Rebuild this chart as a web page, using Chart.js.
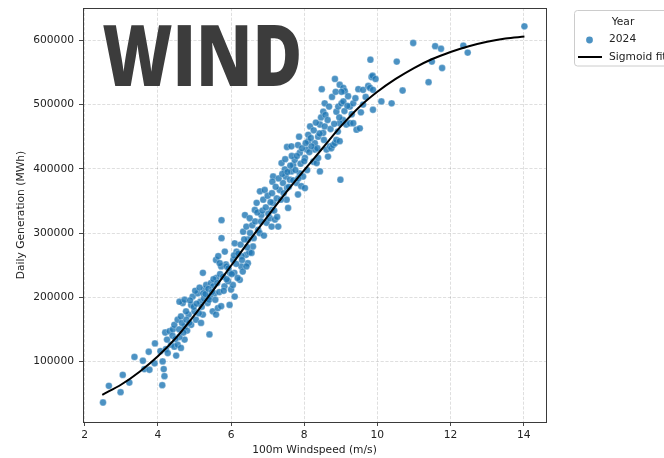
<!DOCTYPE html>
<html><head><meta charset="utf-8">
<script src="https://cdn.jsdelivr.net/npm/chart.js@4.4.1/dist/chart.umd.min.js"></script>
<style>html,body{margin:0;padding:0;background:#fff;overflow:hidden}#wrap{position:relative;width:664px;height:458px}</style>
</head><body><div id="wrap"><canvas id="c" width="664" height="458"></canvas></div>
<script>
// ---- data ----
const windSpeed = [
2.50,2.66,2.98,3.22,4.12,3.04,3.36,3.59,3.63,3.75,3.77,3.92,3.91,4.13,4.16,4.18,4.07,4.22,4.27,4.20,
4.25,4.36,4.32,4.45,4.41,4.54,4.50,4.63,4.73,4.59,4.45,4.54,4.63,4.73,4.80,4.91,4.84,4.77,4.68,4.59,
4.73,4.91,4.95,5.00,5.04,5.18,5.23,5.09,5.16,5.23,5.27,5.32,5.36,5.41,5.45,5.50,5.55,5.59,5.64,5.73,
5.82,5.86,5.96,6.00,6.05,5.59,5.73,6.09,6.28,6.32,6.46,6.41,6.50,
5.24,5.51,5.42,5.65,5.74,5.74,5.69,5.83,5.88,5.97,6.06,6.10,6.15,6.29,6.33,6.38,6.42,6.47,6.51,6.56,
6.60,6.65,6.70,6.74,6.79,6.92,6.83,6.88,6.97,7.06,7.11,7.15,7.11,7.20,7.25,7.29,7.15,7.13,7.38,7.33,
7.42,7.47,7.49,7.53,7.52,7.56,7.61,7.65,7.70,7.74,7.79,7.83,7.88,7.92,7.97,8.02,7.88,7.53,7.65,7.83,
7.86,8.02,8.07,8.11,8.16,8.11,8.25,8.29,8.34,8.38,8.43,8.29,8.38,8.43,8.52,8.56,8.61,8.65,8.70,8.74,
8.79,8.84,8.88,8.97,8.99,8.52,8.56,8.88,8.93,9.02,9.06,9.15,9.25,9.34,9.43,9.52,9.61,9.88,10.11,10.39,
5.60,5.92,6.10,6.24,6.42,
8.84,8.97,9.07,9.11,9.20,9.07,9.25,9.34,9.48,9.61,9.75,9.80,9.84,9.87,9.81,9.88,10.53,10.69,10.98,11.40,
11.49,11.58,11.74,11.77,12.35,12.47,14.02,8.97,
4.40,4.48,4.58,4.66,4.70,4.78,4.86,4.88,4.98,5.02,5.06,5.12,5.14,5.20,5.26,5.30,5.38,5.40,5.48,5.52,
5.57,5.62,5.68,5.70,5.78,5.80,5.88,5.93,6.02,6.08,6.14,6.18,6.20,6.26,6.30,6.36,6.44,6.52,6.58,6.62,
6.66,6.72,6.78,6.82,6.86,6.90,6.95,7.00,7.02,7.08,7.12,7.18,7.22,7.26,7.30,7.36,7.40,7.44,7.48,7.54,
7.58,7.62,7.66,7.70,7.76,7.80,7.84,7.90,7.94,8.00,8.04,8.08,8.14,8.18,8.20,8.26,8.32,8.36,8.42,8.46,
8.48,8.54,8.58,8.64,8.68,8.72,8.76,8.82,8.86,8.92,8.96,9.02,9.10,9.18,9.30,9.40,9.55,9.68,9.95
];
const generation = [
36000,62000,52000,67000,63000,79000,107000,101000,88000,115000,87000,128000,97000,100000,88000,77000,116000,119000,113000,145000,
134000,126000,147000,123000,150000,126000,109000,121000,134000,138000,157000,165000,170000,154000,148000,157000,173000,178000,191000,193000,
196000,188000,201000,178000,165000,160000,173000,206000,193000,238000,212000,219000,191000,142000,222000,178000,206000,173000,183000,186000,
217000,251000,188000,212000,219000,258000,248000,238000,248000,240000,253000,266000,270000,
206000,217000,201000,264000,320000,292000,253000,271000,248000,238000,258000,284000,271000,264000,302000,328000,310000,290000,323000,269000,
279000,336000,347000,305000,365000,367000,328000,352000,316000,323000,336000,347000,310000,321000,354000,310000,388000,380000,409000,367000,
378000,399000,388000,370000,352000,339000,383000,396000,406000,414000,378000,360000,393000,373000,388000,370000,425000,434000,435000,437000,
450000,417000,430000,443000,466000,453000,411000,430000,409000,417000,396000,440000,450000,469000,456000,466000,430000,419000,435000,432000,
437000,440000,445000,443000,383000,489000,502000,489000,497000,502000,476000,469000,471000,471000,461000,463000,500000,492000,505000,502000,
230000,225000,201000,227000,248000,
540000,531000,526000,521000,513000,505000,497000,502000,524000,523000,529000,526000,543000,545000,570000,523000,567000,522000,596000,535000,
567000,591000,587000,557000,592000,581000,622000,471000,
140000,135000,150000,160000,145000,165000,160000,195000,185000,210000,190000,175000,215000,185000,198000,205000,213000,196000,208000,228000,
196000,222000,208000,236000,232000,210000,228000,245000,236000,265000,252000,230000,268000,282000,258000,290000,278000,300000,312000,292000,
318000,332000,300000,318000,335000,296000,340000,358000,330000,348000,362000,335000,372000,325000,385000,352000,392000,362000,415000,395000,
372000,405000,420000,382000,398000,420000,385000,408000,432000,412000,440000,398000,426000,448000,435000,460000,472000,432000,455000,480000,
524000,445000,484000,476000,497000,462000,512000,470000,520000,458000,480000,520000,490000,498000,485000,510000,488000,512000,540000
];
const fitSpeed = [2.48,3.0,3.5,4.0,4.5,5.0,5.5,6.0,6.5,7.0,7.5,8.0,8.5,9.0,9.5,10.0,10.5,11.0,11.5,12.0,12.5,13.0,13.5,14.02];
const fitGeneration = [48000,64000,84000,108000,137000,172000,210000,249000,288000,326000,363000,398000,432000,466000,496000,520000,540000,557000,571000,582000,591000,598000,603000,606000];
const xTicks = [2,4,6,8,10,12,14];
const yTicks = [100000,200000,300000,400000,500000,600000];
const bigTitle = 'WIND';
const xLabel = '100m Windspeed (m/s)';
const yLabel = 'Daily Generation (MWh)';
const legendTitle = 'Year';
const seriesName = '2024';
const fitName = 'Sigmoid fit';

// ---- styles ----
const FONT = 'DejaVu Sans';
const FS = 10.7;
const TXT = '#222';
const PT = 'rgba(31,119,180,0.8)';

const scatterData = windSpeed.map((x,i)=>({x, y: generation[i]}));
const fitData = fitSpeed.map((x,i)=>({x, y: fitGeneration[i]}));

const decor = {
  id:'decor',
  afterDraw(chart){
    const ctx = chart.ctx, a = chart.chartArea;
    ctx.save();
    // spines
    ctx.strokeStyle = '#3a3a3a'; ctx.lineWidth = 1;
    ctx.strokeRect(Math.round(a.left)+0.5, Math.round(a.top)+0.5, Math.round(a.right-a.left)-1+1, Math.round(a.bottom-a.top));
    // big title
    let size = 85;
    ctx.font = '800 '+size+'px "Open Sans"';
    let m = ctx.measureText(bigTitle);
    size = size*60.7/m.actualBoundingBoxAscent;
    ctx.font = '800 '+size.toFixed(2)+'px "Open Sans"';
    m = ctx.measureText(bigTitle);
    const inkW = m.actualBoundingBoxLeft + m.actualBoundingBoxRight;
    const sx = 196/inkW;
    ctx.fillStyle = '#3c3c3c';
    ctx.textAlign='left'; ctx.textBaseline='alphabetic';
    ctx.translate(103, 85.7); ctx.scale(sx,1);
    ctx.fillText(bigTitle, m.actualBoundingBoxLeft, 0);
    ctx.restore();
    // legend
    ctx.save();
    ctx.fillStyle='rgba(255,255,255,0.8)';
    ctx.strokeStyle='#cccccc'; ctx.lineWidth=1;
    ctx.beginPath();
    if (ctx.roundRect) ctx.roundRect(574.5, 10.5, 100, 55.5, 3); else ctx.rect(574.5,10.5,100,55.5);
    ctx.fill(); ctx.stroke();
    ctx.font = FS+'px "'+FONT+'"'; ctx.fillStyle=TXT; ctx.textBaseline='middle';
    ctx.textAlign='center'; ctx.fillText(legendTitle, 623, 22.5);
    ctx.textAlign='left';
    ctx.fillText(seriesName, 609, 39.5);
    ctx.fillText(fitName, 609, 57);
    ctx.fillStyle=PT; ctx.beginPath(); ctx.arc(589.5, 40, 3.4, 0, Math.PI*2); ctx.fill();
    ctx.strokeStyle='#000'; ctx.lineWidth=2; ctx.beginPath(); ctx.moveTo(578,57); ctx.lineTo(602,57); ctx.stroke();
    ctx.restore();
  }
};

const axisCommon = {
  border:{display:false, dash:[3.2,1.6]},
  grid:{color:'rgba(0,0,0,0.16)', lineWidth:0.8, drawTicks:true, tickLength:4, tickColor:'#333', tickWidth:0.9, tickBorderDash:[]},
};

new Chart(document.getElementById('c'), {
  type:'scatter',
  data:{datasets:[
    {label:fitName, data:fitData, showLine:true, borderColor:'#000', borderWidth:2, pointRadius:0, cubicInterpolationMode:'monotone', order:0, fill:false},
    {label:seriesName, data:scatterData, backgroundColor:PT, borderColor:'rgba(255,255,255,0.55)', borderWidth:0.5, pointRadius:3.4, order:1}
  ]},
  options:{
    responsive:false, animation:false, devicePixelRatio:1,
    layout:{padding:{left:0,right:118,top:8,bottom:0}},
    plugins:{legend:{display:false}, tooltip:{enabled:false}},
    scales:{
      x:{type:'linear', min:1.953, max:14.61, ...axisCommon,
        afterBuildTicks:s=>{s.ticks = xTicks.map(v=>({value:v}));},
        afterFit:s=>{s.height=36; s.paddingLeft=0; s.paddingRight=0;},
        ticks:{font:{family:FONT,size:FS}, color:TXT, padding:3, maxRotation:0, callback:v=>String(v)},
        title:{display:true, text:xLabel, font:{family:FONT,size:FS}, color:TXT, padding:{top:0,bottom:0.9}}
      },
      y:{type:'linear', min:5600, max:650500, ...axisCommon,
        afterBuildTicks:s=>{s.ticks = yTicks.map(v=>({value:v}));},
        afterFit:s=>{s.width=83; s.paddingTop=0; s.paddingBottom=0;},
        ticks:{font:{family:FONT,size:FS}, color:TXT, padding:5, callback:v=>String(v)},
        title:{display:true, text:yLabel, font:{family:FONT,size:FS}, color:TXT, padding:{top:15.3,bottom:0}}
      }
    }
  },
  plugins:[decor]
});
</script></body></html>
